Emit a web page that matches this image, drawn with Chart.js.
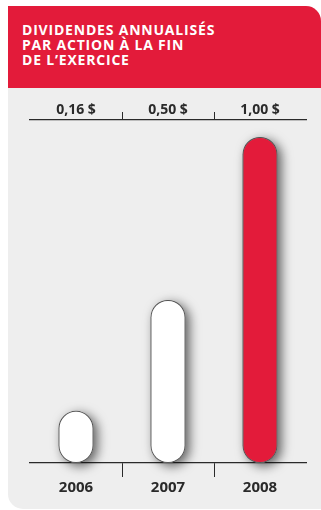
<!DOCTYPE html>
<html>
<head>
<meta charset="utf-8">
<script src="https://cdn.jsdelivr.net/npm/chart.js@4"></script>
<style>
  html, body { margin: 0; padding: 0; background: #ffffff; width: 321px; height: 510px; overflow: hidden; }
  #card {
    position: absolute; left: 8px; top: 6px; width: 313px; height: 503px;
    background: #eeeeee; border-radius: 0 15px 0 15px; overflow: hidden;
  }
  #head {
    height: 82px; background: #e31b3a; color: #ffffff; box-sizing: border-box;
    padding: 16px 0 0 14px;
    font: 700 14px/15px 'Open Sans', sans-serif; letter-spacing: 0.8px;
  }
  #wrap { position: absolute; left: 0; top: 0; width: 321px; height: 510px; }
</style>
</head>
<body>
<div id="card"><div id="head">DIVIDENDES ANNUALISÉS<br>PAR ACTION À LA FIN<br>DE L’EXERCICE</div></div>
<div id="wrap"><canvas id="c" width="321" height="510"></canvas></div>
<script>
// Annualized dividend per share at fiscal year end
const years = ['2006', '2007', '2008'];
const dividends = [0.16, 0.50, 1.00];
const valueLabels = ['0,16 $', '0,50 $', '1,00 $'];
const barFills = ['#ffffff', '#ffffff', '#e31b3a'];

const ink = '#2a2a2a';

// Soft drop shadow behind each pill-shaped bar
const barShadow = {
  id: 'barShadow',
  beforeDatasetsDraw(chart) {
    const ctx = chart.ctx;
    chart.getDatasetMeta(0).data.forEach(bar => {
      const { x, y, base, width } = bar.getProps(['x', 'y', 'base', 'width'], true);
      ctx.save();
      ctx.shadowColor = 'rgba(0,0,0,0.6)';
      ctx.shadowBlur = 11;
      ctx.shadowOffsetX = 4;
      ctx.shadowOffsetY = 3;
      ctx.fillStyle = '#8a8a8a';
      ctx.beginPath();
      ctx.roundRect(x - width / 2, y, width, base - y, width / 2);
      ctx.fill();
      ctx.restore();
    });
  }
};

// Tick marks only between categories, not at the axis ends
const dividerColor = c => (c.index === 1 || c.index === 2) ? ink : 'transparent';

new Chart(document.getElementById('c'), {
  type: 'bar',
  data: {
    labels: years,
    datasets: [{
      data: dividends,
      backgroundColor: barFills,
      borderColor: '#555555',
      borderWidth: 1,
      borderSkipped: false,
      borderRadius: 30,
      barPercentage: 0.38,
      categoryPercentage: 1
    }]
  },
  options: {
    responsive: false,
    animation: false,
    devicePixelRatio: 1,
    layout: { padding: { left: 30, right: 15, top: 100, bottom: 7 } },
    plugins: { legend: { display: false }, tooltip: { enabled: false }, title: { display: false } },
    scales: {
      x: {
        position: 'bottom',
        offset: true,
        z: 1,
        grid: { offset: true, drawOnChartArea: false, drawTicks: true, tickLength: 14, color: dividerColor, lineWidth: 1 },
        border: { display: true, color: ink, width: 1.2 },
        ticks: { color: ink, padding: 2, font: { family: 'Open Sans', weight: 'bold', size: 15 } },
        afterFit: s => { s.height = 40; }
      },
      xTop: {
        type: 'category',
        labels: valueLabels,
        position: 'top',
        offset: true,
        z: 1,
        grid: { offset: true, drawOnChartArea: false, drawTicks: true, tickLength: 8, color: dividerColor, lineWidth: 1 },
        border: { display: true, color: ink, width: 1.2 },
        ticks: { color: ink, padding: -6, font: { family: 'Open Sans', weight: 'bold', size: 14 } },
        afterFit: s => { s.height = 20; }
      },
      y: { display: false, min: 0, max: 1.052 }
    }
  },
  plugins: [barShadow]
});
</script>
</body>
</html>
